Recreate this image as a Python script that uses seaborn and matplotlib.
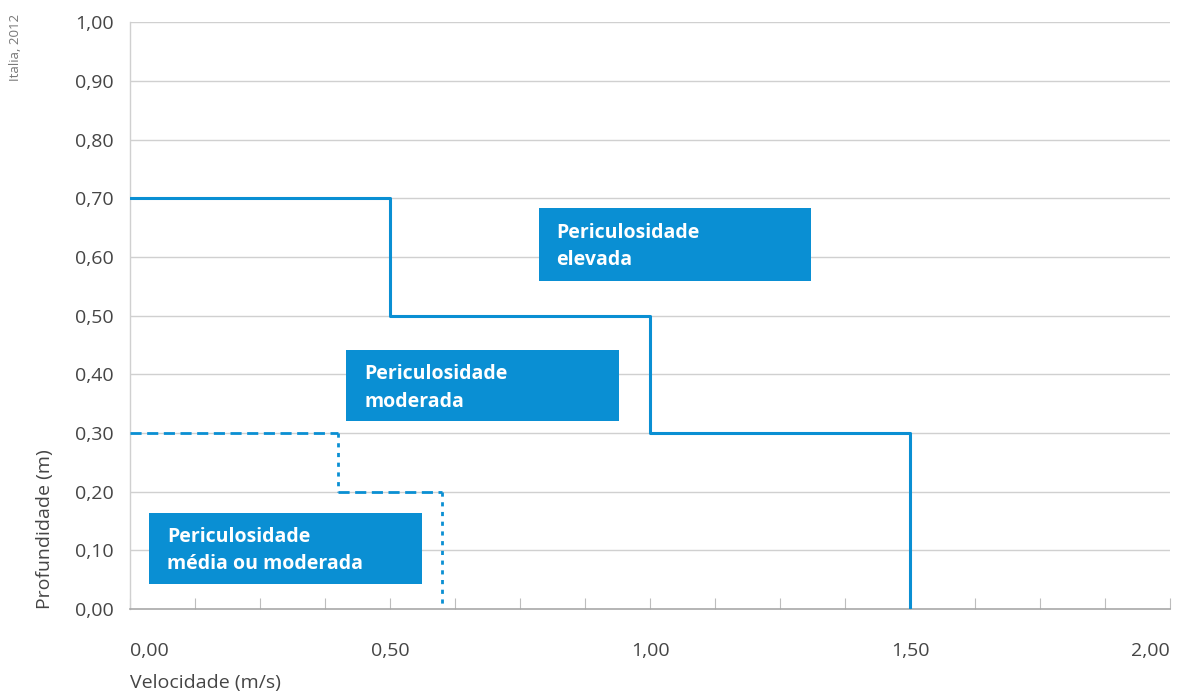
import numpy as np
import pandas as pd
import matplotlib
matplotlib.use("Agg")
import matplotlib.pyplot as plt
from matplotlib.patches import Rectangle
from matplotlib.ticker import MultipleLocator, FixedLocator
import seaborn as sns

# ---- dados ----
# limite de periculosidade elevada (linha contínua em degraus)
alta_vel = [0.0, 0.5, 0.5, 1.0, 1.0, 1.5, 1.5]
alta_prof = [0.7, 0.7, 0.5, 0.5, 0.3, 0.3, 0.0]
# limite de periculosidade média (linha tracejada em degraus)
media_vel = [0.0, 0.4, 0.4, 0.6, 0.6]
media_prof = [0.3, 0.3, 0.2, 0.2, 0.0]

x_ticks = [0.0, 0.5, 1.0, 1.5, 2.0]
x_labels = ["0,00", "0,50", "1,00", "1,50", "2,00"]
y_ticks = [0.0, 0.1, 0.2, 0.3, 0.4, 0.5, 0.6, 0.7, 0.8, 0.9, 1.0]
y_labels = ["0,00", "0,10", "0,20", "0,30", "0,40", "0,50",
            "0,60", "0,70", "0,80", "0,90", "1,00"]

zonas = ["Periculosidade\nelevada",
         "Periculosidade\nmoderada",
         "Periculosidade\nmédia ou moderada"]

AZUL = "#0a8fd3"
CINZA_TXT = "#454545"

sns.set_theme(style="white")
plt.rcParams["font.family"] = ["Open Sans", "DejaVu Sans"]

fig = plt.figure(figsize=(11.82, 6.93), dpi=100)
ax = fig.add_axes([0.110, 0.121, 0.880, 0.847])

# grade horizontal
for y in y_ticks[1:]:
    ax.axhline(y, color="#d0d0d0", lw=1.0, zorder=0)

# linha contínua
df_alta = pd.DataFrame({"v": alta_vel, "p": alta_prof})
sns.lineplot(data=df_alta, x="v", y="p", sort=False, estimator=None,
             color=AZUL, lw=2.2, ax=ax, zorder=3)

# linha tracejada: horizontais tracejadas, verticais pontilhadas
for i in range(len(media_vel) - 1):
    seg = pd.DataFrame({"v": media_vel[i:i + 2], "p": media_prof[i:i + 2]})
    horizontal = media_prof[i] == media_prof[i + 1]
    ls = (0, (4, 2)) if horizontal else (0, (1.5, 2))
    sns.lineplot(data=seg, x="v", y="p", sort=False, estimator=None,
                 color=AZUL, lw=2.0, linestyle=ls, ax=ax, zorder=3)

# caixas de texto
caixas = [(0.786, 0.559, 0.524, 0.125),
          (0.416, 0.320, 0.524, 0.121),
          (0.037, 0.043, 0.524, 0.121)]
for txt, (x0, y0, w, h) in zip(zonas, caixas):
    ax.add_patch(Rectangle((x0, y0), w, h, facecolor=AZUL, edgecolor="none", zorder=4))
    ax.text(x0 + 0.034, y0 + h / 2 - 0.004, txt, color="white", fontsize=14,
            fontweight="bold", va="center", ha="left", linespacing=1.5, zorder=5)

ax.set_xlim(0, 2.0)
ax.set_ylim(0, 1.0)
ax.set_xlabel("")
ax.set_ylabel("")

ax.xaxis.set_major_locator(FixedLocator(x_ticks))
ax.xaxis.set_minor_locator(MultipleLocator(0.125))
ax.set_xticklabels(x_labels)
ax.set_yticks(y_ticks)
ax.set_yticklabels(y_labels)

ax.tick_params(axis="x", which="both", direction="in", length=8, width=0.8,
               color="#bdbdbd", bottom=True, pad=24, labelsize=14,
               labelcolor=CINZA_TXT)
ax.tick_params(axis="y", length=0, pad=12, labelsize=14, labelcolor=CINZA_TXT)
xl = ax.get_xticklabels()
xl[0].set_ha("left")
xl[-1].set_ha("right")

for s in ["top", "right"]:
    ax.spines[s].set_visible(False)
ax.spines["left"].set_color("#d0d0d0")
ax.spines["left"].set_linewidth(1.0)
ax.spines["bottom"].set_color("#a8a8a8")
ax.spines["bottom"].set_linewidth(1.2)

fig.text(0.110, 0.002, "Velocidade (m/s)", fontsize=14, color=CINZA_TXT,
         ha="left", va="bottom")
fig.text(0.038, 0.121, "Profundidade (m)", fontsize=14, color=CINZA_TXT,
         rotation=90, ha="center", va="bottom")
fig.text(0.013, 0.980, "Italia, 2012", fontsize=9.5, color="#777777",
         rotation=90, ha="center", va="top")

fig.savefig("out.png", dpi=100)
